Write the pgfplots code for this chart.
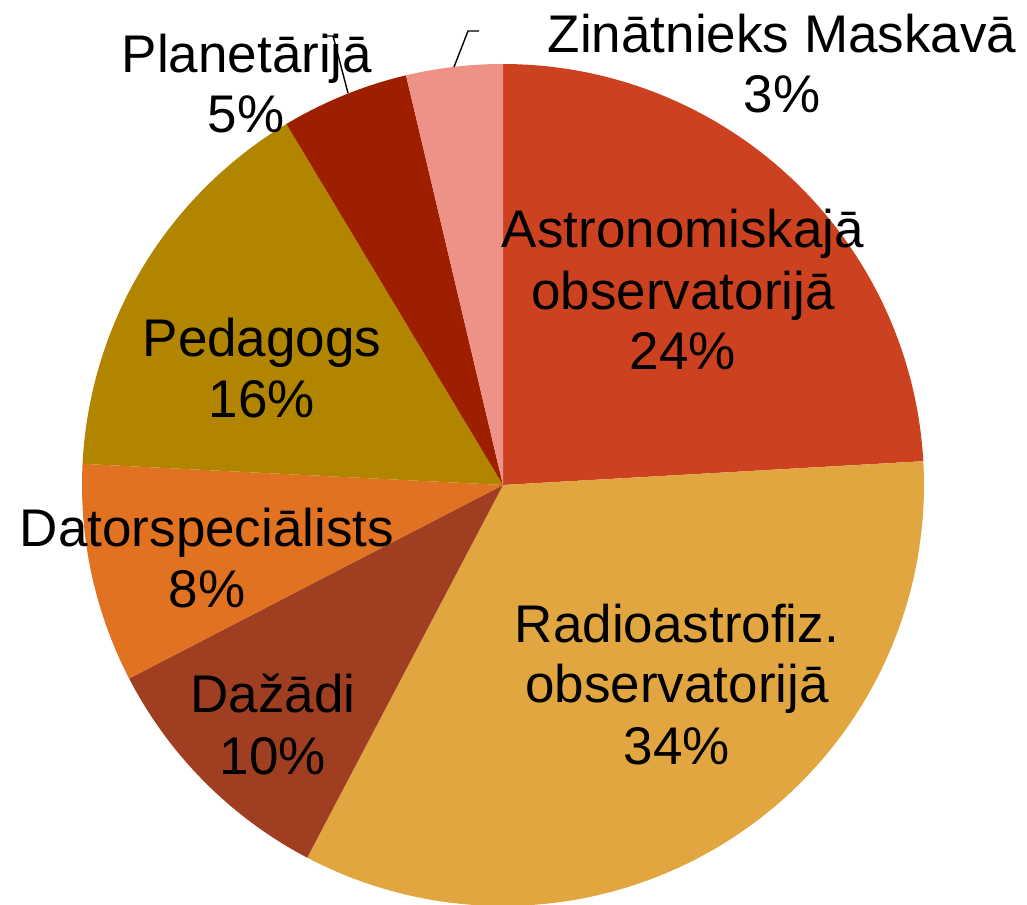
\documentclass[border=0pt]{standalone}
\usepackage{pgfplots}
\pgfplotsset{compat=1.18}
\usepackage{fontspec}
\setmainfont{Liberation Sans}
\definecolor{cAstro}{HTML}{CC4120}
\definecolor{cRadio}{HTML}{E1A640}
\definecolor{cDazadi}{HTML}{A03E22}
\definecolor{cDator}{HTML}{E07222}
\definecolor{cPeda}{HTML}{B18500}
\definecolor{cPlan}{HTML}{9E1F00}
\definecolor{cZin}{HTML}{EE9288}
% shares in percent (clockwise from 12 o'clock)
\def\pAstro{24.1}
\def\pRadio{33.6}
\def\pDazadi{9.7}
\def\pDator{8.4}
\def\pPeda{15.6}
\def\pPlan{4.9}
\def\pZin{3.7}
\begin{document}
\begin{tikzpicture}
\pgfmathsetmacro{\aA}{90}
\pgfmathsetmacro{\aB}{\aA-3.6*\pAstro}
\pgfmathsetmacro{\aC}{\aB-3.6*\pRadio}
\pgfmathsetmacro{\aD}{\aC-3.6*\pDazadi}
\pgfmathsetmacro{\aE}{\aD-3.6*\pDator}
\pgfmathsetmacro{\aF}{\aE-3.6*\pPeda}
\pgfmathsetmacro{\aG}{\aF-3.6*\pPlan}
\pgfmathsetmacro{\aH}{\aG-3.6*\pZin}
\begin{axis}[
  scale only axis, width=513.5pt, height=452pt,
  xmin=0, xmax=1027, ymin=0, ymax=904,
  hide axis, clip=true,
]
\path (rel axis cs:0,0) rectangle (rel axis cs:1,1);
\addplot[fill=cAstro, draw=none, domain=\aB:\aA, samples=80] ({503+421*cos(x)},{419+421*sin(x)}) -- (axis cs:503,419) -- cycle;
\addplot[fill=cRadio, draw=none, domain=\aC:\aB, samples=100] ({503+421*cos(x)},{419+421*sin(x)}) -- (axis cs:503,419) -- cycle;
\addplot[fill=cDazadi, draw=none, domain=\aD:\aC, samples=40] ({503+421*cos(x)},{419+421*sin(x)}) -- (axis cs:503,419) -- cycle;
\addplot[fill=cDator, draw=none, domain=\aE:\aD, samples=40] ({503+421*cos(x)},{419+421*sin(x)}) -- (axis cs:503,419) -- cycle;
\addplot[fill=cPeda, draw=none, domain=\aF:\aE, samples=60] ({503+421*cos(x)},{419+421*sin(x)}) -- (axis cs:503,419) -- cycle;
\addplot[fill=cPlan, draw=none, domain=\aG:\aF, samples=30] ({503+421*cos(x)},{419+421*sin(x)}) -- (axis cs:503,419) -- cycle;
\addplot[fill=cZin, draw=none, domain=\aH:\aG, samples=30] ({503+421*cos(x)},{419+421*sin(x)}) -- (axis cs:503,419) -- cycle;
% leader lines
\addplot[black, line width=0.7pt, mark=none] coordinates {(348,811) (333,868) (326,868)};
\addplot[black, line width=0.7pt, mark=none] coordinates {(454,837) (468,873) (479,873)};
% labels
\begin{scope}[every node/.style={anchor=base, inner sep=0pt, font=\fontsize{26.5}{31}\selectfont}]
\node at (axis cs:782,851) {Zinātnieks Maskavā};
\node at (axis cs:782,791) {3\%};
\node at (axis cs:247,831) {Planetārijā};
\node at (axis cs:246,771) {5\%};
\node at (axis cs:683,656) {Astronomiskajā};
\node at (axis cs:683,594) {observatorijā};
\node at (axis cs:683,534) {24\%};
\node at (axis cs:262,547) {Pedagogs};
\node at (axis cs:262,486) {16\%};
\node at (axis cs:207,357) {Datorspeciālists};
\node at (axis cs:207,296) {8\%};
\node at (axis cs:273,191) {Dažādi};
\node at (axis cs:273,129) {10\%};
\node at (axis cs:677,261) {Radioastrofiz.};
\node at (axis cs:677,201) {observatorijā};
\node at (axis cs:677,139) {34\%};
\end{scope}
\end{axis}
\end{tikzpicture}
\end{document}
